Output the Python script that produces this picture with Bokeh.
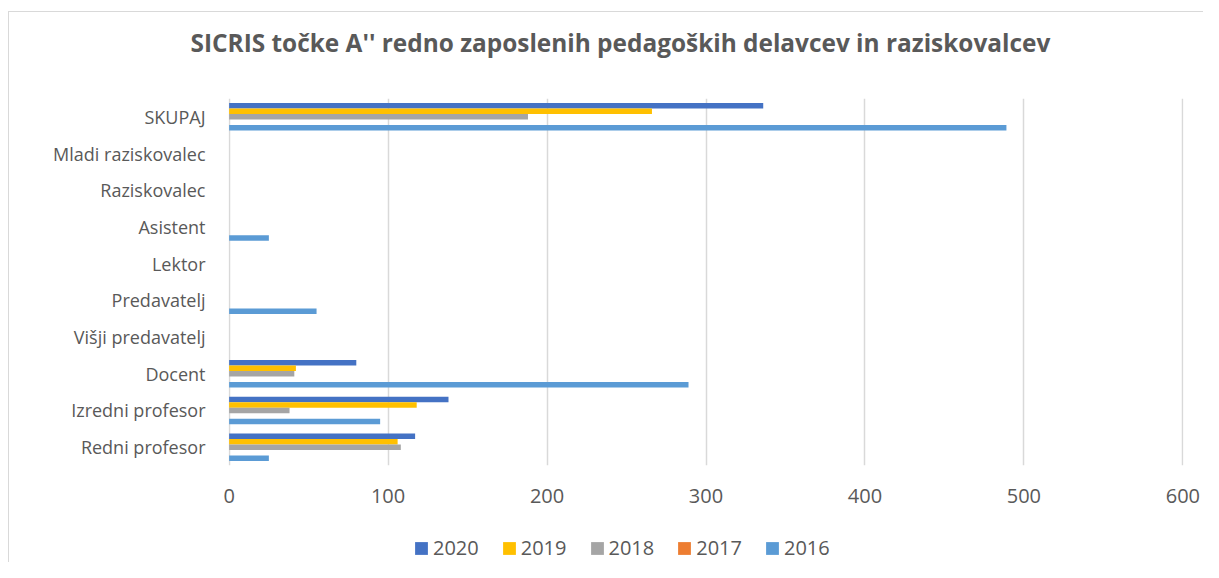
from bokeh.plotting import figure
from bokeh.layouts import column
from bokeh.models import ColumnDataSource, Legend, LegendItem, FixedTicker, Range1d
from bokeh.transform import dodge
from bokeh.embed import file_html
from bokeh.resources import INLINE

categories = ["Redni profesor", "Izredni profesor", "Docent", "Višji predavatelj",
              "Predavatelj", "Lektor", "Asistent", "Raziskovalec",
              "Mladi raziskovalec", "SKUPAJ"]
years = ["2020", "2019", "2018", "2017", "2016"]
v2020 = [117, 138, 80, 0, 0, 0, 0, 0, 0, 336]
v2019 = [106, 118, 42, 0, 0, 0, 0, 0, 0, 266]
v2018 = [108, 38, 41, 0, 0, 0, 0, 0, 0, 188]
v2017 = [0, 0, 0, 0, 0, 0, 0, 0, 0, 0]
v2016 = [25, 95, 289, 0, 55, 0, 25, 0, 0, 489]
x_ticks = [0, 100, 200, 300, 400, 500, 600]
title_text = "SICRIS točke A'' redno zaposlenih pedagoških delavcev in raziskovalcev"

colors = {"2020": "#4472c4", "2019": "#ffc000", "2018": "#a5a5a5",
          "2017": "#ed7d31", "2016": "#5b9bd5"}
offsets = {"2020": 0.30, "2019": 0.15, "2018": 0.0, "2017": -0.15, "2016": -0.30}

src = ColumnDataSource(dict(cat=categories, y2020=v2020, y2019=v2019,
                            y2018=v2018, y2017=v2017, y2016=v2016))

FONT = "Open Sans"
TXT = "#595959"
W = 1194
FL, FR = 228, 1183  # page x of the plotting frame (all strips share it)


def bare(h, top=0):
    f = figure(width=W, height=h, x_range=Range1d(FL, FR), y_range=Range1d(0, 10),
               output_backend="svg", toolbar_location=None,
               x_axis_location=None, y_axis_location=None,
               min_border=0, min_border_left=219, min_border_right=20,
               min_border_top=top, min_border_bottom=0)
    f.grid.visible = False
    f.outline_line_color = None
    return f


# title strip
pt = bare(78, top=47)
pt.title.text = title_text
pt.title.align = "left"
pt.title.offset = -38
pt.title.text_font = FONT
pt.title.text_font_size = "24.4px"
pt.title.text_font_style = "bold"
pt.title.text_color = TXT
pt.title.vertical_align = "middle"
pt.title.standoff = 0

# main chart
p = figure(width=W, height=430, y_range=categories, x_range=(-0.4, 600.4),
           output_backend="svg", toolbar_location=None,
           min_border_left=219, min_border_right=20, min_border_top=8,
           min_border_bottom=55)
p.y_range.range_padding = 0
p.outline_line_color = None

for yr in years:
    p.hbar(y=dodge("cat", offsets[yr], range=p.y_range), left=0,
           right="y" + yr, height=0.15, source=src,
           fill_color=colors[yr], line_color=None)

p.xaxis.ticker = FixedTicker(ticks=x_ticks)
p.xaxis.axis_line_color = None
p.xaxis.major_tick_line_color = None
p.xaxis.minor_tick_line_color = None
p.xaxis.major_label_text_font = FONT
p.xaxis.major_label_text_font_size = "20px"
p.xaxis.major_label_text_color = TXT
p.xaxis.major_label_standoff = 17

p.yaxis.axis_line_color = None
p.yaxis.major_tick_line_color = None
p.yaxis.minor_tick_line_color = None
p.yaxis.major_label_text_font = FONT
p.yaxis.major_label_text_font_size = "18px"
p.yaxis.major_label_text_color = TXT
p.yaxis.major_label_standoff = 17

p.ygrid.grid_line_color = None
p.xgrid.grid_line_color = "#d9d9d9"
p.xgrid.grid_line_width = 1.5

# legend strip
pl = bare(42)
items = []
for yr in years:
    r = pl.hbar(y=[-500], left=[FL], right=[FL + 1], height=1,
                fill_color=colors[yr], line_color=None)
    items.append(LegendItem(label=yr, renderers=[r]))
legend = Legend(items=items, orientation="horizontal", location=(185, 1),
                label_text_font=FONT, label_text_font_size="20px",
                label_text_color=TXT, glyph_width=16, glyph_height=16,
                spacing=22, border_line_color=None, background_fill_alpha=0,
                margin=0, padding=0, label_standoff=4)
pl.add_layout(legend, "center")

layout = column(pt, p, pl, spacing=0)
layout.styles = {"margin-left": "8px", "margin-top": "11px",
                 "border-left": "1px solid #d9d9d9",
                 "border-top": "1px solid #d9d9d9"}
open("out.html", "w").write(file_html(layout, INLINE))
